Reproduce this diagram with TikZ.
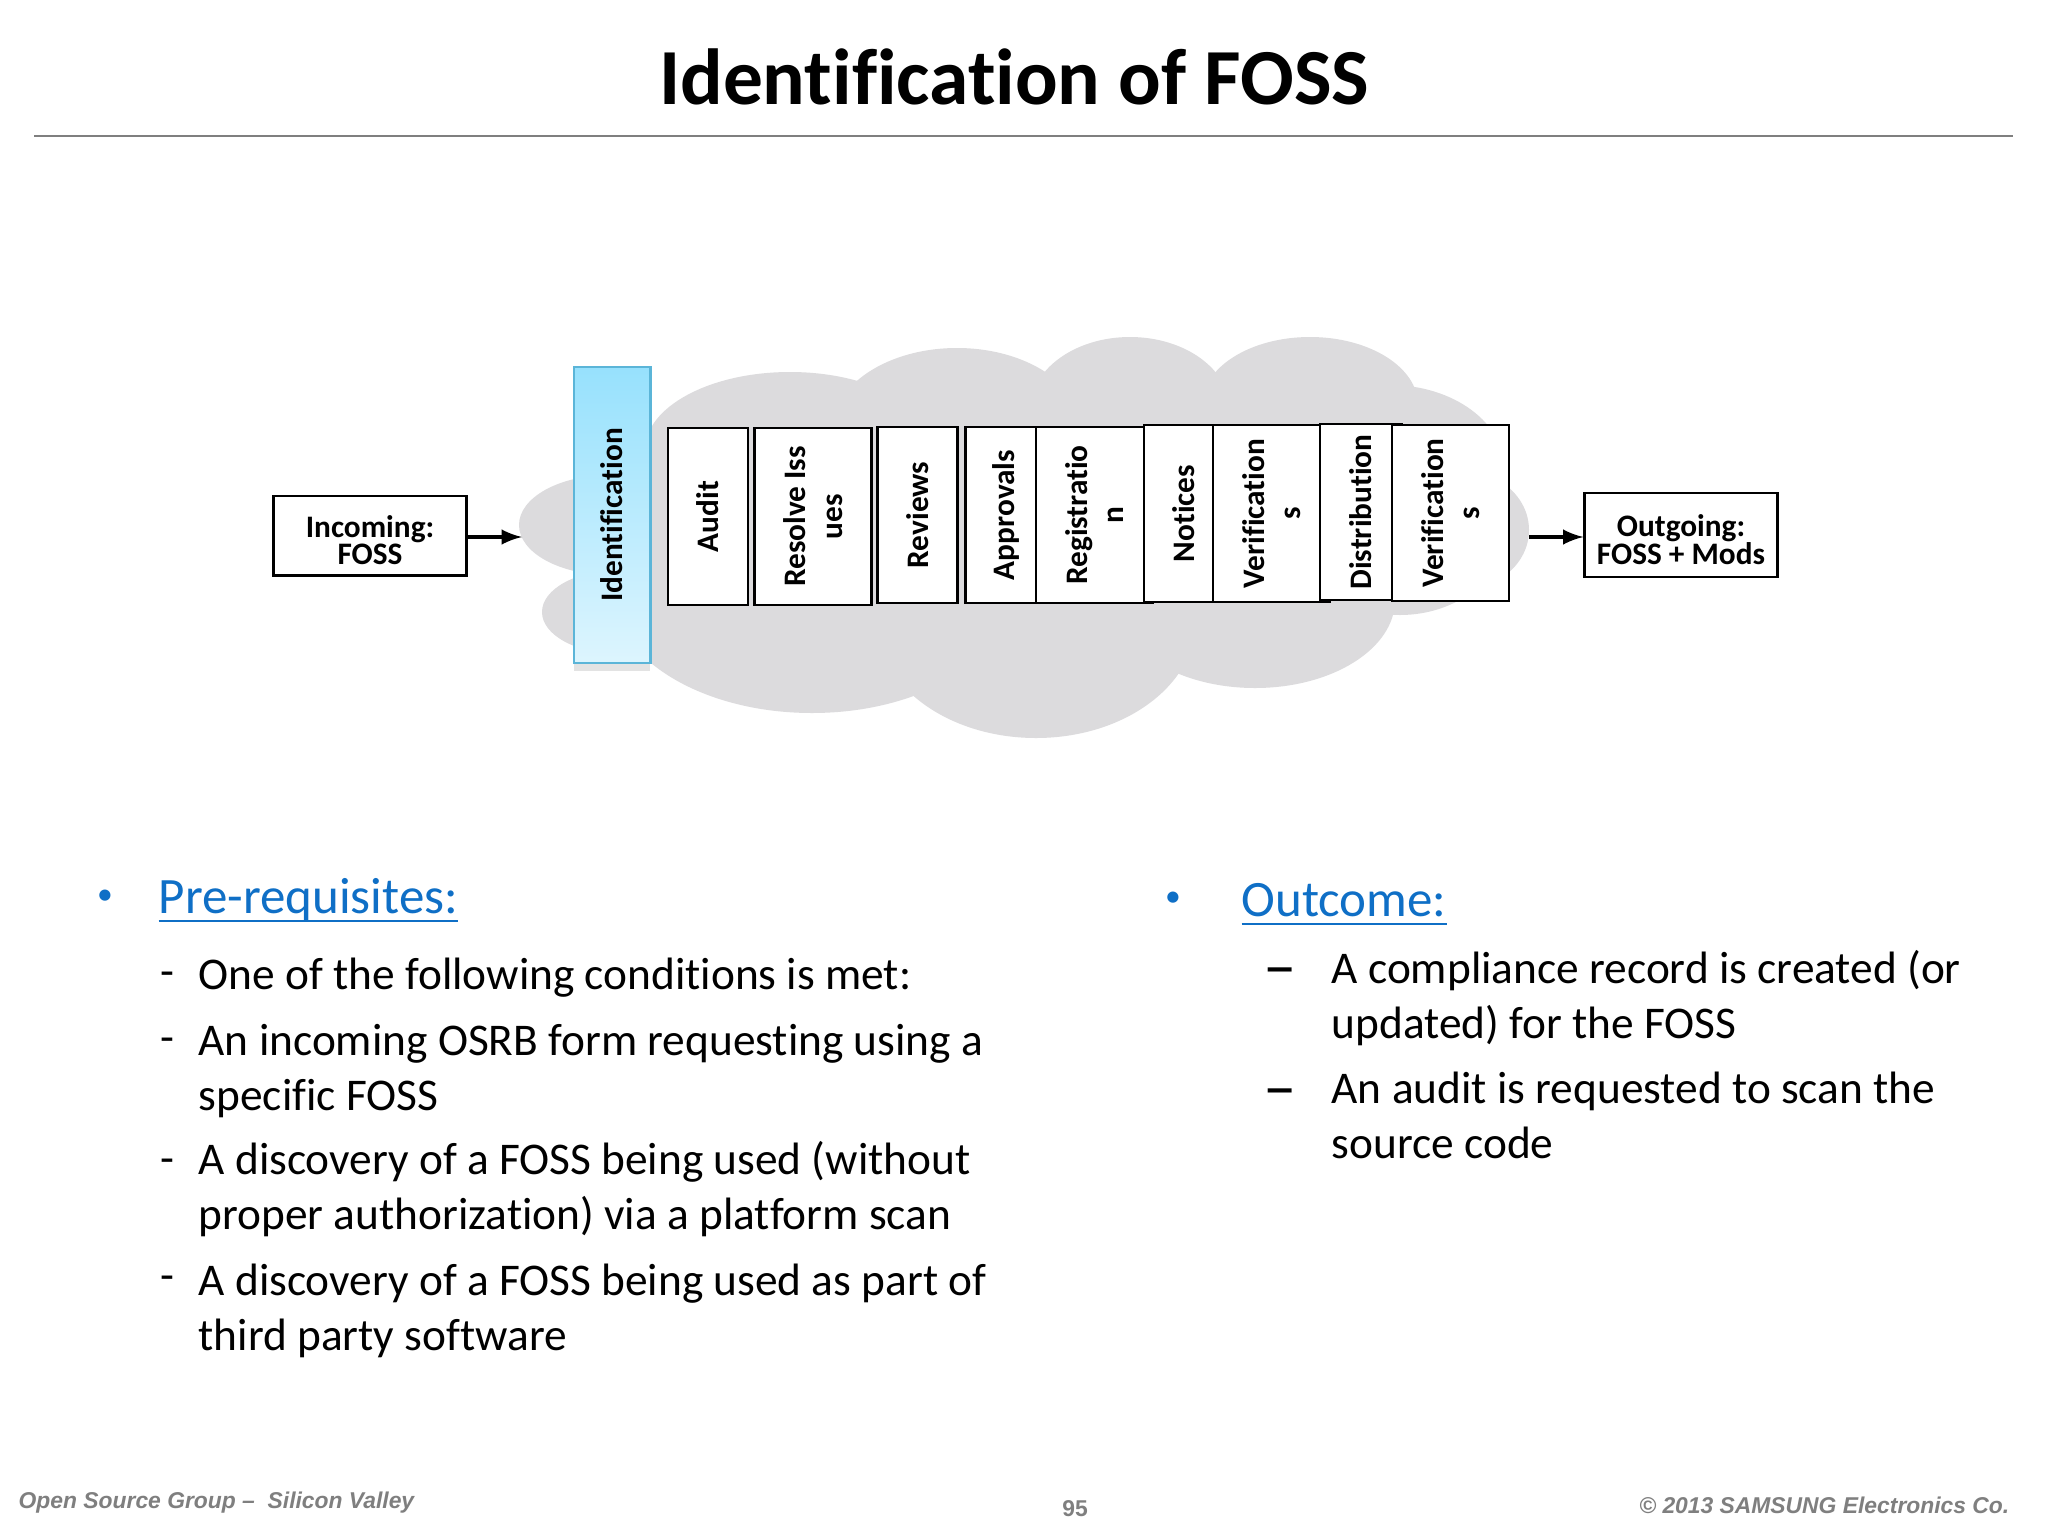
\documentclass[tikz,border=0pt]{standalone}
\usepackage{fontspec}
\setmainfont{Carlito}[Ligatures={NoCommon}]
\newfontfamily\footfont{Liberation Sans}
\usetikzlibrary{shadows}
\newcommand{\headrule}[1]{\setbox0\hbox{#1}\rlap{\rule[-2.2pt]{\wd0}{.55pt}}\box0}
\definecolor{cloudgray}{HTML}{DCDBDD}
\definecolor{headblue}{HTML}{0F6FC6}
\definecolor{footgray}{HTML}{7F7F7F}
\definecolor{stagetop}{HTML}{97E1FD}
\definecolor{stagebottom}{HTML}{DDF5FE}
\definecolor{stageline}{HTML}{5BB5D8}
\tikzset{
	stagebox/.style={draw,line width=.7pt,fill=white,rotate=90,align=center,inner sep=0pt,font=\fontsize{8.9}{10.4}\selectfont\bfseries},
	portbox/.style={draw,line width=.7pt,fill=white,align=center,inner sep=0pt,font=\fontsize{8.9}{7.1}\selectfont\bfseries},
	bodytext/.style={anchor=north west,inner sep=0pt,align=left,font=\fontsize{12.9}{15.6}\selectfont},
	dashtext/.style={anchor=base west,inner sep=0pt,font=\fontsize{12.9}{15.6}\selectfont},
	longdash/.style={anchor=base west,inner sep=0pt,font=\fontsize{19}{20}\selectfont},
	headtext/.style={anchor=north west,inner sep=0pt,text=headblue,font=\fontsize{14.5}{17}\selectfont},
	bullettext/.style={inner sep=0pt,text=headblue,font=\fontsize{9}{11}\selectfont},
	foottext/.style={inner sep=0pt,text=footgray,font=\footfont\fontsize{6.5}{7}\selectfont\bfseries\itshape}
}
\begin{document}
\begin{tikzpicture}[x=0.01cm,y=-0.01cm]
	\path [use as bounding box,fill=white] (0,0) rectangle (2048,1536);

	% title
	\node [inner sep=0pt,font=\fontsize{22.6}{26}\selectfont\bfseries] (title) at (1014,77) {Identification of FOSS};
	\draw [footgray,line width=.6pt] (34,136) -- (2013,136);

	% cloud
	\fill [cloudgray] (610,525) ellipse [x radius=91,y radius=50];
	\fill [cloudgray] (620,612) ellipse [x radius=78,y radius=42];
	\fill [cloudgray] (790,450) ellipse [x radius=145,y radius=78];
	\fill [cloudgray] (957,430) ellipse [x radius=125,y radius=82];
	\fill [cloudgray] (1130,410) ellipse [x radius=100,y radius=73];
	\fill [cloudgray] (1310,405) ellipse [x radius=108,y radius=68];
	\fill [cloudgray] (1390,470) ellipse [x radius=115,y radius=85];
	\fill [cloudgray] (1460,530) ellipse [x radius=69,y radius=60];
	\fill [cloudgray] (1400,530) ellipse [x radius=105,y radius=85];
	\fill [cloudgray] (1255,600) ellipse [x radius=140,y radius=88];
	\fill [cloudgray] (1036,620) ellipse [x radius=160,y radius=118];
	\fill [cloudgray] (812,590) ellipse [x radius=200,y radius=123];
	\fill [cloudgray] (640,450) rectangle (1380,600);

	% stages
	\node [stagebox,draw=stageline,top color=stagetop,bottom color=stagebottom,minimum width=2.96cm,minimum height=.765cm,drop shadow={shadow xshift=0pt,shadow yshift=-.08cm,opacity=.22}] (identification) at (612,515) {Identification};
	\node [stagebox,minimum width=1.77cm,minimum height=.80cm] (audit) at (708,516.5) {Audit};
	\node [stagebox,minimum width=1.77cm,minimum height=1.165cm] (resolve) at (813,516.5) {Resolve Iss\\ues};
	\node [stagebox,minimum width=1.76cm,minimum height=.80cm] (reviews) at (917.5,515) {Reviews};
	\node [stagebox,minimum width=1.76cm,minimum height=.81cm] (approvals) at (1006,515) {Approvals};
	\node [stagebox,minimum width=1.76cm,minimum height=1.17cm] (registration) at (1094.5,515) {Registratio\\n};
	\node [stagebox,minimum width=1.77cm,minimum height=.80cm] (notices) at (1184,513.5) {Notices};
	\node [stagebox,minimum width=1.77cm,minimum height=1.17cm] (verifications) at (1271.5,513.5) {Verification\\s};
	\node [stagebox,minimum width=1.76cm,minimum height=.82cm] (distribution) at (1361,512) {Distribution};
	\node [stagebox,minimum width=1.76cm,minimum height=1.17cm] (verifications2) at (1450.5,513) {Verification\\s};

	% ports
	\node [portbox,minimum width=1.925cm,minimum height=.795cm] (incoming) at (370,535.5) {\rule{0pt}{8.8pt}Incoming:\\[-.8pt]FOSS};
	\node [portbox,minimum width=1.925cm,minimum height=.84cm] (outgoing) at (1681,535) {\rule{0pt}{8.8pt}Outgoing:\\[-.8pt]FOSS + Mods};
	\coordinate (intip) at (522,537);
	\coordinate (outtail) at (1529,537);
	\draw [line width=1pt,-latex] (incoming.east |- intip) -- (intip);
	\draw [line width=1pt,-latex] (outtail) -- (outgoing.west |- outtail);

	% left column
	\node [bullettext] (prebullet) at (105,897) {•};
	\node [headtext] (prereq) at (158,878) {\headrule{Pre-requisites:}};
	\node [dashtext] (predasha) at (160,986) {-};
	\node [bodytext] (prea) at (198,957) {One of the following conditions is met:};
	\node [dashtext] (predashb) at (160,1052) {-};
	\node [bodytext] (preb) at (198,1024) {An incoming OSRB form requesting using a\\specific FOSS};
	\node [dashtext] (predashc) at (160,1173) {-};
	\node [bodytext] (prec) at (198,1141) {A discovery of a FOSS being used (without\\proper authorization) via a platform scan};
	\node [dashtext] (predashd) at (160,1290) {-};
	\node [bodytext] (pred) at (198,1263) {A discovery of a FOSS being used as part of\\third party software};

	% right column
	\node [bullettext] (outbullet) at (1173,899) {•};
	\node [headtext] (outcome) at (1241,883) {\headrule{Outcome:}};
	\node [longdash] (outdasha) at (1263,988) {–};
	\node [bodytext] (outa) at (1331,950) {A compliance record is created (or\\updated) for the FOSS};
	\node [longdash] (outdashb) at (1263,1109) {–};
	\node [bodytext] (outb) at (1331,1071) {An audit is requested to scan the\\source code};

	% footer
	\node [foottext,anchor=west] (group) at (18,1503) {Open Source Group –\ \ Silicon Valley};
	\node [foottext,font=\footfont\fontsize{6.5}{7}\selectfont\bfseries] (pagenum) at (1075,1509) {95};
	\node [foottext,anchor=east] (copyright) at (2010,1505) {© 2013 SAMSUNG Electronics Co.};
\end{tikzpicture}
\end{document}
